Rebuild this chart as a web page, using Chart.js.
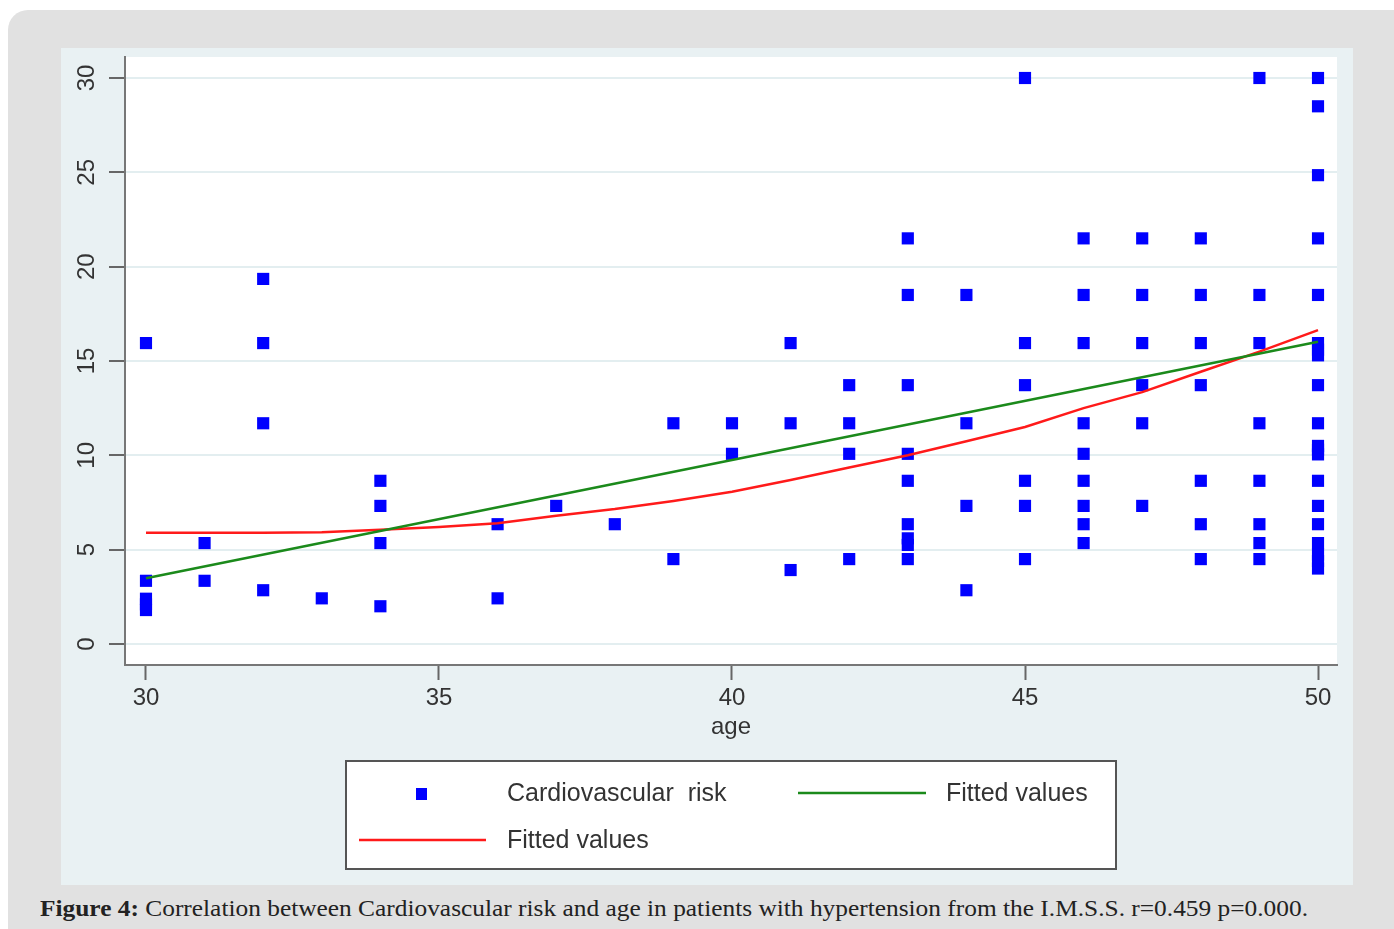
<!DOCTYPE html>
<html>
<head>
<meta charset="utf-8">
<script src="https://cdn.jsdelivr.net/npm/chart.js@4.4.1/dist/chart.umd.min.js"></script>
<style>
  html, body { margin: 0; padding: 0; background: #ffffff; width: 1394px; height: 929px; overflow: hidden; }
  #card { position: absolute; left: 8px; top: 10px; width: 1420px; height: 960px; background: #e1e1e1; border-radius: 20px; }
  #panel { position: absolute; left: 61px; top: 48px; width: 1292px; height: 837px; background: #e9f1f3; }
  #caption { position: absolute; left: 40px; top: 896px; font-family: "Liberation Serif", serif; font-size: 23px; color: #222; white-space: nowrap; transform-origin: 0 0; }
</style>
</head>
<body>
<div id="card"></div>
<div id="panel"><canvas id="c" width="1292" height="837"></canvas></div>
<div id="caption"><b>Figure 4:</b> Correlation between Cardiovascular risk and age in patients with hypertension from the I.M.S.S. r=0.459 p=0.000.</div>
<script>
// ---- data ----
const ageGroups = [30, 31, 32, 33, 34, 36, 37, 38, 39, 40, 41, 42, 43, 44, 45, 46, 47, 48, 49, 50];
const riskByAge = [
  [15.95, 3.35, 2.4, 2.1, 1.8],                       // 30
  [5.35, 3.35],                                        // 31
  [19.35, 15.95, 11.7, 2.85],                          // 32
  [2.42],                                              // 33
  [8.65, 7.32, 5.35, 2.0],                             // 34
  [6.35, 2.42],                                        // 36
  [7.32],                                              // 37
  [6.35],                                              // 38
  [11.7, 4.5],                                         // 39
  [11.7, 10.08],                                       // 40
  [15.95, 11.7, 3.92],                                 // 41
  [13.72, 11.7, 10.08, 4.5],                           // 42
  [21.5, 18.5, 13.72, 10.08, 8.65, 6.35, 5.6, 5.25, 4.5], // 43
  [18.5, 11.7, 7.32, 2.85],                            // 44
  [30, 15.95, 13.72, 8.65, 7.32, 4.5],                 // 45
  [21.5, 18.5, 15.95, 11.7, 10.08, 8.65, 7.32, 6.35, 5.35], // 46
  [21.5, 18.5, 15.95, 13.72, 11.7, 7.32],              // 47
  [21.5, 18.5, 15.95, 13.72, 8.65, 6.35, 4.5],         // 48
  [30, 18.5, 15.95, 11.7, 8.65, 6.35, 5.35, 4.5],      // 49
  [30, 28.5, 24.85, 21.5, 18.5, 15.95, 15.6, 15.3, 13.72, 11.7, 10.5, 10.3, 10.05, 8.65, 7.32, 6.35, 5.35, 4.75, 4.4, 4.0] // 50
];
const linearFitAges = [30, 50];
const linearFitValues = [3.48, 16.02];
const curveFitAges = [30, 31, 32, 33, 34, 35, 36, 37, 38, 39, 40, 41, 42, 43, 44, 45, 46, 47, 48, 49, 50];
const curveFitValues = [5.9, 5.9, 5.9, 5.92, 6.05, 6.2, 6.4, 6.8, 7.15, 7.58, 8.07, 8.69, 9.35, 10.0, 10.75, 11.5, 12.5, 13.35, 14.43, 15.5, 16.64];
const xTickValues = [30, 35, 40, 45, 50];
const xTickLabels = ['30', '35', '40', '45', '50'];
const yTickValues = [0, 5, 10, 15, 20, 25, 30];
const yTickLabels = ['0', '5', '10', '15', '20', '25', '30'];
const seriesLabels = ['Cardiovascular  risk', 'Fitted values', 'Fitted values'];
const xTitle = 'age';

// ---- build datasets ----
const scatterPoints = [];
ageGroups.forEach((a, i) => riskByAge[i].forEach(v => scatterPoints.push({ x: a, y: v })));
const linearPoints = linearFitAges.map((a, i) => ({ x: a, y: linearFitValues[i] }));
const curvePoints = curveFitAges.map((a, i) => ({ x: a, y: curveFitValues[i] }));

const FONT = '"Liberation Sans", Arial, sans-serif';
const TEXT = '#333333';

// stretch caption to reference width
(function () {
  const cap = document.getElementById('caption');
  const w = cap.getBoundingClientRect().width;
  cap.style.transform = 'scaleX(' + (1268 / w) + ')';
})();

const plotBg = {
  id: 'plotBg',
  beforeDraw(chart) {
    const { ctx, chartArea: a } = chart;
    ctx.save();
    ctx.fillStyle = '#ffffff';
    ctx.fillRect(a.left, a.top, a.right - a.left, a.bottom - a.top);
    ctx.restore();
  }
};

const boxLegend = {
  id: 'boxLegend',
  afterDraw(chart) {
    const ctx = chart.ctx;
    const ds = chart.data.datasets;
    const bx = 285, by = 713, bw = 770, bh = 108;
    ctx.save();
    ctx.fillStyle = '#ffffff';
    ctx.fillRect(bx, by, bw, bh);
    ctx.strokeStyle = '#555555';
    ctx.lineWidth = 2;
    ctx.strokeRect(bx, by, bw, bh);
    ctx.font = '25px ' + FONT;
    ctx.fillStyle = TEXT;
    ctx.textBaseline = 'middle';
    ctx.textAlign = 'left';
    const row1 = 746, row2 = 793;
    // scatter marker
    ctx.fillStyle = ds[0].backgroundColor;
    ctx.fillRect(355, row1 - 6, 11, 12);
    ctx.fillStyle = TEXT;
    ctx.fillText(ds[0].label, 446, row1);
    // green
    ctx.strokeStyle = ds[1].borderColor;
    ctx.lineWidth = 2.5;
    ctx.beginPath(); ctx.moveTo(737, row1 - 1); ctx.lineTo(865, row1 - 1); ctx.stroke();
    ctx.fillText(ds[1].label, 885, row1);
    // red
    ctx.strokeStyle = ds[2].borderColor;
    ctx.beginPath(); ctx.moveTo(298, row2 - 1); ctx.lineTo(425, row2 - 1); ctx.stroke();
    ctx.fillText(ds[2].label, 446, row2);
    ctx.restore();
  }
};

new Chart(document.getElementById('c'), {
  data: {
    datasets: [
      {
        type: 'scatter', label: seriesLabels[0], data: scatterPoints,
        pointStyle: 'rect', pointRadius: 8.6, pointHoverRadius: 8.6,
        backgroundColor: '#0000ff', borderColor: '#0000ff', borderWidth: 0, order: 3
      },
      {
        type: 'line', label: seriesLabels[1], data: linearPoints,
        borderColor: '#1b8a1b', borderWidth: 2.5, pointRadius: 0, tension: 0, fill: false, order: 1
      },
      {
        type: 'line', label: seriesLabels[2], data: curvePoints,
        borderColor: '#ff1a1a', borderWidth: 2.5, pointRadius: 0, tension: 0, fill: false, order: 2
      }
    ]
  },
  options: {
    responsive: false,
    animation: false,
    devicePixelRatio: 1,
    events: [],
    layout: { padding: { top: 9, right: 16, bottom: 143, left: 0 } },
    plugins: { legend: { display: false }, tooltip: { enabled: false } },
    scales: {
      x: {
        type: 'linear', position: 'bottom', min: 29.642, max: 50.324,
        afterBuildTicks: s => { s.ticks = xTickValues.map(v => ({ value: v })); },
        afterFit: s => { s.height = 77; s.paddingLeft = 0; s.paddingRight = 0; },
        ticks: {
          autoSkip: false, maxRotation: 0, minRotation: 0, padding: 4,
          font: { family: FONT, size: 24 }, color: TEXT,
          callback: (v) => xTickLabels[xTickValues.indexOf(v)]
        },
        grid: { drawOnChartArea: false, drawTicks: true, tickLength: 15, tickColor: '#666666', tickWidth: 2 },
        border: { display: true, color: '#777777', width: 2 },
        title: { display: true, text: xTitle, color: TEXT, font: { family: FONT, size: 24 }, padding: { top: 0, bottom: 0 } }
      },
      y: {
        type: 'linear', position: 'left', min: -1.113, max: 31.113,
        afterBuildTicks: s => { s.ticks = yTickValues.map(v => ({ value: v })); },
        afterFit: s => { s.width = 64; s.paddingTop = 0; s.paddingBottom = 0; },
        ticks: {
          autoSkip: false, minRotation: 90, maxRotation: 90, crossAlign: 'center', padding: 8,
          font: { family: FONT, size: 24 }, color: TEXT,
          callback: (v) => yTickLabels[yTickValues.indexOf(v)]
        },
        grid: { drawOnChartArea: true, color: '#e3eef0', lineWidth: 2, drawTicks: true, tickLength: 16, tickColor: '#666666', tickWidth: 2 },
        border: { display: true, color: '#777777', width: 2 }
      }
    }
  },
  plugins: [plotBg, boxLegend]
});
</script>
</body>
</html>
